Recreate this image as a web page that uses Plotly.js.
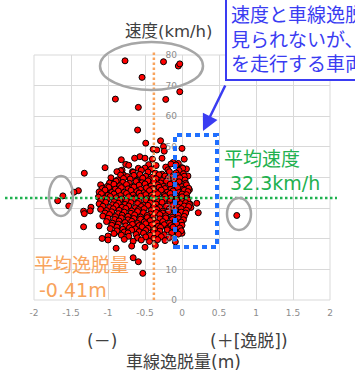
<!DOCTYPE html>
<html>
<head>
<meta charset="utf-8">
<script src="https://cdn.plot.ly/plotly-3.0.1.min.js"></script>
<style>
html,body{margin:0;padding:0;background:#fff;overflow:hidden;}
#chart{width:355px;height:375px;}
</style>
</head>
<body>
<div id="chart"></div>
<script>
// 車線逸脱量 (m)
const offsetX = [
  -0.77,-0.25,-0.05,-0.03,-0.54,-0.03,-0.90,-0.22,-0.59,-0.60,
  -0.49,-0.29,-0.25,-0.24,-0.39,-0.34,0.00,-0.57,-0.50,-0.27,
  -0.05,0.00,-0.64,-0.59,-0.67,-0.81,-0.79,-0.95,-1.07,-1.32,
  -1.04,-1.40,-1.46,-1.61,-1.68,-1.53,-1.33,-1.32,-1.23,-1.24,
  -1.33,-1.12,-1.08,-1.00,-1.00,-0.89,-0.91,-0.66,-0.59,-0.53,
  -0.23,-0.09,0.00,-0.02,0.11,0.20,0.22,0.74,0.03,0.06,
  0.08,0.10,0.12,-0.97,-1.02,
  -0.82,-0.40,-0.12,
  -0.76,-0.45,-0.15,
  -0.72,-0.50,-0.35,-0.22,-0.08,0.01,
  -0.83,-0.55,-0.42,-0.19,-0.04,
  -0.88,-0.66,-0.57,-0.46,-0.36,-0.27,-0.17,-0.08,0.02,
  -0.83,-0.74,-0.65,-0.49,-0.40,-0.31,-0.23,-0.14,-0.06,0.03,
  -0.96,-0.87,-0.79,-0.70,-0.61,-0.53,-0.44,-0.35,-0.27,-0.19,-0.11,-0.03,0.04,
  -0.98,-0.89,-0.80,-0.71,-0.62,-0.54,-0.46,-0.38,-0.29,-0.21,-0.12,-0.04,0.05,
  -1.10,-1.01,-0.92,-0.84,-0.75,-0.67,-0.58,-0.50,-0.42,-0.33,-0.25,-0.16,-0.08,0.00,0.06,
  -1.08,-0.99,-0.90,-0.82,-0.73,-0.65,-0.56,-0.48,-0.40,-0.31,-0.23,-0.15,-0.06,0.02,0.09,
  -1.12,-1.04,-0.95,-0.86,-0.78,-0.69,-0.61,-0.52,-0.44,-0.36,-0.28,-0.20,-0.12,-0.04,0.03,0.08,
  -1.09,-1.00,-0.92,-0.83,-0.75,-0.66,-0.58,-0.49,-0.41,-0.33,-0.24,-0.16,-0.08,0.00,0.06,
  -1.13,-1.05,-0.97,-0.89,-0.81,-0.72,-0.64,-0.56,-0.47,-0.39,-0.31,-0.23,-0.15,-0.07,0.00,0.07,
  -1.10,-1.01,-0.92,-0.84,-0.75,-0.66,-0.58,-0.49,-0.41,-0.32,-0.24,-0.16,-0.07,0.01,0.08,
  -1.12,-1.03,-0.94,-0.86,-0.77,-0.69,-0.60,-0.52,-0.43,-0.35,-0.27,-0.18,-0.10,-0.02,0.05,0.10,
  -1.07,-0.98,-0.89,-0.81,-0.72,-0.63,-0.55,-0.46,-0.38,-0.30,-0.21,-0.13,-0.05,0.03,0.09,
  -1.10,-1.02,-0.93,-0.85,-0.76,-0.68,-0.59,-0.51,-0.42,-0.34,-0.26,-0.17,-0.09,-0.01,0.06,
  -1.04,-0.95,-0.86,-0.78,-0.69,-0.60,-0.52,-0.43,-0.35,-0.26,-0.18,-0.09,-0.01,0.05,
  -1.07,-0.98,-0.90,-0.81,-0.73,-0.64,-0.56,-0.47,-0.39,-0.30,-0.22,-0.13,-0.05,0.03,
  -1.00,-0.91,-0.82,-0.73,-0.65,-0.56,-0.47,-0.39,-0.30,-0.22,-0.13,-0.05,0.02,
  -1.02,-0.94,-0.85,-0.77,-0.68,-0.60,-0.51,-0.43,-0.34,-0.26,-0.17,-0.09,-0.01,
  -0.95,-0.86,-0.76,-0.67,-0.58,-0.49,-0.41,-0.32,-0.24,-0.15,-0.07,0.00,
  -0.97,-0.88,-0.80,-0.71,-0.63,-0.54,-0.46,-0.37,-0.29,-0.20,-0.12,-0.03,
  -0.88,-0.78,-0.68,-0.58,-0.49,-0.39,-0.30,-0.20,-0.10,-0.01,
  -0.92,-0.82,-0.73,-0.62,-0.52,-0.43,-0.33,-0.24,-0.14,-0.05,
  -0.72,-0.60,-0.49,-0.38,-0.28,-0.17,
  -0.78,-0.66,-0.55,-0.44,-0.33,-0.23,
  -0.68,-0.50,-0.36
];
// 速度 (km/h)
const speedY = [
  78.1,77.8,76.4,77.1,72.7,68.0,65.6,65.5,62.9,55.5,
  51.2,52.0,50.1,48.6,49.2,49.0,49.5,46.8,46.3,46.3,
  44.6,43.2,46.3,43.0,41.9,42.4,40.8,38.1,36.7,41.4,
  43.2,35.7,35.2,34.0,32.4,30.7,29.0,28.2,30.3,29.1,
  23.9,24.2,20.1,20.9,19.6,16.9,21.8,13.8,12.5,8.7,
  20.5,19.0,21.8,23.0,31.3,31.6,28.5,27.6,46.0,42.8,
  40.5,36.0,30.2,36.5,34.8,
  45.8,46.0,44.9,
  44.3,44.2,44.4,
  44.0,43.1,43.9,43.4,44.1,43.0,
  42.2,42.4,42.7,42.5,42.3,
  41.9,41.7,41.0,41.8,41.4,41.1,41.9,41.5,41.2,
  40.8,40.3,40.7,40.4,40.1,40.9,40.5,40.2,40.7,40.4,
  39.9,39.2,39.7,39.5,39.1,39.8,39.3,39.6,39.0,39.7,39.4,39.9,39.2,
  38.2,38.8,38.4,38.1,38.7,38.3,38.9,38.5,38.2,38.8,38.3,38.6,38.1,
  37.6,37.1,37.8,37.3,37.7,37.0,37.5,37.9,37.2,37.6,37.1,37.8,37.4,37.0,37.6,
  36.4,36.8,36.2,36.7,36.3,36.9,36.1,36.6,36.3,36.8,36.4,36.1,36.7,36.2,36.5,
  35.3,35.9,35.1,35.6,35.2,35.8,35.4,35.0,35.7,35.3,35.9,35.2,35.6,35.1,35.8,35.4,
  34.7,34.2,34.6,34.1,34.8,34.3,34.9,34.4,34.2,34.7,34.3,34.8,34.1,34.6,34.4,
  33.6,33.2,33.8,33.4,33.0,33.7,33.3,33.9,33.1,33.5,33.0,33.8,33.4,33.2,33.7,33.3,
  32.4,32.8,32.1,32.6,32.3,32.9,32.2,32.7,32.5,32.1,32.8,32.3,32.6,32.2,32.7,
  31.4,31.9,31.1,31.6,31.2,31.8,31.5,31.0,31.7,31.3,31.9,31.1,31.6,31.4,31.8,31.2,
  30.6,30.2,30.8,30.3,30.7,30.1,30.5,30.9,30.4,30.2,30.6,30.8,30.3,30.7,30.5,
  29.6,29.2,29.8,29.3,29.9,29.1,29.5,29.8,29.2,29.6,29.0,29.7,29.4,29.8,29.3,
  28.4,28.8,28.2,28.7,28.3,28.9,28.5,28.1,28.6,28.4,28.8,28.2,28.7,28.4,
  27.4,27.9,27.2,27.7,27.3,27.8,27.1,27.6,27.2,27.9,27.5,27.0,27.7,27.3,
  26.7,26.3,26.8,26.2,26.6,26.4,26.9,26.1,26.5,26.8,26.3,26.6,26.2,
  25.6,25.1,25.8,25.3,25.7,25.0,25.5,25.9,25.2,25.6,25.1,25.8,25.4,
  24.4,24.8,24.2,24.7,24.3,24.9,24.5,24.1,24.6,24.3,24.8,24.4,
  23.3,23.8,23.1,23.6,23.2,23.9,23.4,23.0,23.7,23.3,23.8,23.5,
  22.6,22.2,22.8,22.3,22.7,22.1,22.5,22.9,22.4,22.6,
  21.7,21.2,21.9,21.4,21.8,21.1,21.6,21.3,21.9,21.5,
  20.8,20.3,20.6,20.2,20.7,20.4,
  19.8,19.2,19.6,19.1,19.7,19.4,
  17.6,17.2,17.8
];

const xTickVals = [-2,-1.5,-1,-0.5,0,0.5,1,1.5,2];
const xTickText = ['-2','-1.5','-1','-0.5','0','0.5','1','1.5','2'];
const yTickVals = [0,10,20,30,40,50,60,70,80];
const yTickText = ['0','10','20','30','40','50','60','70','80'];

const meanOffsetLine = -0.38;   // drawn position of average-offset line
const meanSpeedLine = 33.3;     // drawn position of average-speed line

// plot geometry (pixels)
const W = 355, H = 375, L = 34, R = 25, T = 55, B = 75;
const PW = W - L - R, PH = H - T - B;
const px = p => (p - L) / PW;
const py = p => (H - B - p) / PH;

const FONT = '"DejaVu Sans", "Noto Sans CJK JP", sans-serif';
const ORANGE = '#f8a35c', GREEN = '#1fb14f', BLUE = '#3a3cf2', DBLUE = '#1f6fff', GREY = '#a6a6a6';

const trace = {
  type: 'scatter', mode: 'markers',
  x: offsetX, y: speedY,
  marker: {size: 6, color: '#ff0000', line: {color: '#000000', width: 1}},
  hoverinfo: 'skip'
};

const tickFont = {family: FONT, size: 9, color: '#8c8c8c'};

const layout = {
  width: W, height: H,
  margin: {l: L, r: R, t: T, b: B, pad: 0},
  paper_bgcolor: '#ffffff', plot_bgcolor: '#ffffff',
  showlegend: false,
  font: {family: FONT},
  xaxis: {
    range: [-2, 2], tickmode: 'array', tickvals: xTickVals, ticktext: xTickText,
    showgrid: true, gridcolor: '#d9d9d9', gridwidth: 1, zeroline: false,
    ticks: '', tickfont: tickFont, showline: false, fixedrange: true,
    ticklabelstandoff: 6
  },
  yaxis: {
    range: [0, 80], tickmode: 'array', tickvals: yTickVals, ticktext: yTickText,
    anchor: 'free', position: 0.5,
    showgrid: true, gridcolor: '#d9d9d9', gridwidth: 1, zeroline: false,
    ticks: '', tickfont: tickFont, showline: false, fixedrange: true,
    ticklabelstandoff: 5
  },
  shapes: [
    {type: 'rect', xref: 'paper', yref: 'paper', x0: 0, x1: 1, y0: 0, y1: 1,
     line: {color: '#d9d9d9', width: 1}, layer: 'below'},
    {type: 'line', xref: 'paper', yref: 'paper',
     x0: (meanOffsetLine + 2) / 4, x1: (meanOffsetLine + 2) / 4, y0: 0, y1: py(52),
     line: {color: ORANGE, width: 2.5, dash: '2.5px,2.5px'}},
    {type: 'line', xref: 'paper', yref: 'paper',
     x0: px(5), x1: px(337), y0: meanSpeedLine / 80, y1: meanSpeedLine / 80,
     line: {color: GREEN, width: 2.5, dash: '2.5px,2.5px'}},
    {type: 'circle', xref: 'paper', yref: 'paper', x0: px(100), x1: px(203), y0: py(90), y1: py(42),
     line: {color: GREY, width: 2.5}},
    {type: 'circle', xref: 'paper', yref: 'paper', x0: px(49), x1: px(73), y0: py(216), y1: py(176),
     line: {color: GREY, width: 2.5}},
    {type: 'circle', xref: 'paper', yref: 'paper', x0: px(227), x1: px(251), y0: py(230), y1: py(198),
     line: {color: GREY, width: 2.5}},
    {type: 'rect', xref: 'paper', yref: 'paper', x0: px(175), x1: px(217), y0: py(247), y1: py(135),
     line: {color: DBLUE, width: 4, dash: '5px,4px'}}
  ],
  annotations: [
    {text: '速度(km/h)', xref: 'paper', yref: 'paper', x: px(169), y: py(32),
     xanchor: 'center', yanchor: 'middle', showarrow: false,
     font: {family: FONT, size: 16.5, color: '#404040'}},
    {text: '車線逸脱量(m)', xref: 'paper', yref: 'paper', x: px(183.5), y: py(362),
     xanchor: 'center', yanchor: 'middle', showarrow: false,
     font: {family: FONT, size: 17, color: '#404040'}},
    {text: '(－)', xref: 'paper', yref: 'paper', x: px(102), y: py(341),
     xanchor: 'center', yanchor: 'middle', showarrow: false,
     font: {family: FONT, size: 17, color: '#404040'}},
    {text: '(＋[逸脱])', xref: 'paper', yref: 'paper', x: px(249), y: py(341),
     xanchor: 'center', yanchor: 'middle', showarrow: false,
     font: {family: FONT, size: 17, color: '#404040'}},
    {text: '平均逸脱量', xref: 'paper', yref: 'paper', x: px(32), y: py(265),
     xanchor: 'left', yanchor: 'middle', showarrow: false,
     font: {family: FONT, size: 19, color: ORANGE}},
    {text: '-0.41m', xref: 'paper', yref: 'paper', x: px(37), y: py(290),
     xanchor: 'left', yanchor: 'middle', showarrow: false,
     font: {family: FONT, size: 19, color: ORANGE}},
    {text: '平均速度', xref: 'paper', yref: 'paper', x: px(222), y: py(159),
     xanchor: 'left', yanchor: 'middle', showarrow: false,
     font: {family: FONT, size: 19, color: GREEN}},
    {text: '32.3km/h', xref: 'paper', yref: 'paper', x: px(228), y: py(183),
     xanchor: 'left', yanchor: 'middle', showarrow: false,
     font: {family: FONT, size: 19, color: GREEN}},
    {text: '', xref: 'paper', yref: 'paper', x: px(203), y: py(131),
     showarrow: true, ax: 23, ay: -47, arrowhead: 2, arrowsize: 1.3, arrowwidth: 2.5,
     arrowcolor: BLUE, standoff: 0},
    {text: '速度と車線逸脱量に相関は<br>見られないが、一部に路肩<br>を走行する車両がある',
     xref: 'paper', yref: 'paper', x: px(225), y: py(-2),
     xanchor: 'left', yanchor: 'top', align: 'left', showarrow: false,
     bgcolor: '#ffffff', bordercolor: BLUE, borderwidth: 2, borderpad: 4,
     font: {family: FONT, size: 19, color: BLUE}}
  ]
};

Plotly.newPlot('chart', [trace], layout, {staticPlot: true, displayModeBar: false});
</script>
</body>
</html>
